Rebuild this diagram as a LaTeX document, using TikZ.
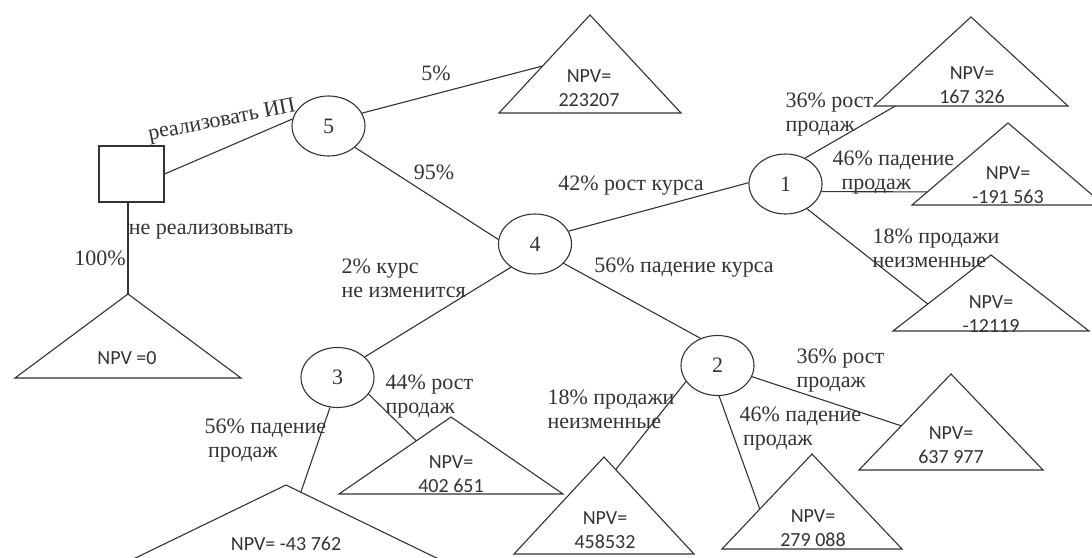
\documentclass[tikz,border=0pt]{standalone}
\usepackage{fontspec}
\setmainfont{Liberation Serif}
\newfontfamily\npvfont{Carlito}
\usetikzlibrary{shapes.geometric,calc}

\tikzset{
  decision/.style={draw,rectangle,minimum width=32.5pt,minimum height=28pt},
  chance/.style={draw,ellipse,minimum width=36.5pt,minimum height=30pt,inner sep=0pt,font=\fontsize{11}{12}\selectfont},
  leaf/.style={line join=miter},
  npv/.style={align=center,inner sep=0pt,font=\npvfont\fontsize{10}{12}\selectfont},
  lbl/.style={inner sep=0pt,align=left,font=\fontsize{11}{12}\selectfont},
}

\begin{document}
\begin{tikzpicture}[x=0.5pt,y=-0.5pt,line width=0.55pt,color=black!80]
\clip (0,0) rectangle (1092,557);

            % decision and chance nodes
            \node[decision] (d) at (131.5,174) {};
            \node[chance] (c5) at (328.5,126) {5};
            \node[chance] (c4) at (535,244) {4};
            \node[chance] (c1) at (785.5,184) {1};
            \node[chance] (c3) at (337.5,377.5) {3};
            \node[chance] (c2) at (717.5,365.5) {2};

            % outcome triangles: apex x/apex y/half width/height
            \foreach \nm/\ax/\ay/\hw/\ht in {
            t0/128/294/113/84,
            t5/590/15/91/98,
            t1a/971/17/97/89,
            t1b/1008/123/96/82,
            t1c/991/255/98/76,
            t2a/951/374/92/96,
            t2b/812/454/90/95,
            t2c/604/457/90/97,
            t3a/451/417/112/77,
            t3b/286/485/165/80} {
            \draw[leaf] (\ax,\ay) coordinate (\nm-top) -- ++(-\hw,\ht) coordinate (\nm-l) -- ++(2*\hw,0) coordinate (\nm-r) -- cycle;
            }

            % NPV values
            \node[npv] (v0) at (127,358) {NPV =0};
            \node[npv] (v5) at (589,88.5) {NPV=\\223207};
            \node[npv] (v1a) at (972,85) {NPV=\\167 326};
            \node[npv] (v1b) at (1008,185) {NPV=\\-191 563};
            \node[npv] (v1c) at (991,314) {NPV=\\-12119};
            \node[npv] (v2a) at (951,445.5) {NPV=\\637 977};
            \node[npv] (v2b) at (813,528) {NPV=\\279 088};
            \node[npv] (v2c) at (605,530) {NPV=\\458532};
            \node[npv] (v3a) at (451,474.5) {NPV=\\402 651};
            \node[npv] (v3b) at (286,544) {NPV= -43 762};

            % branches
            \draw (d.east) -- (c5.169);
            \draw (t0-top |- d.south) -- (t0-top);
            \draw (c5.21) -- ($(t5-l)!0.48!(t5-top)$);
            \draw (c5.-39) -- (c4.173);
            \draw (c4.21) -- (c1.178);
            \draw (c4.-34) -- (c2.122);
            \draw (c4.-136) -- (c3.37);
            \draw (c1.53) -- ($(t1a-l)!0.11!(t1a-r)$);
            \draw (c1.-12) -- ($(t1b-l)!0.16!(t1b-top)$);
            \draw (c1.-49) -- ($(t1c-l)!0.355!(t1c-top)$);
            \draw (c3.-28) -- ($(t3a-l)!0.69!(t3a-top)$);
            \draw (c3.-104) -- ($(t3b-top)!0.09!(t3b-r)$);
            \draw (c2.-153) -- ($(t2c-top)!0.13!(t2c-r)$);
            \draw (c2.-87) -- ($(t2b-l)!0.42!(t2b-top)$);
            \draw (c2.-18) -- ($(t2a-l)!0.46!(t2a-top)$);

            % branch labels
            \node[lbl,rotate=11] (l-ip) at (222,121) {реализовать ИП};
            \node[lbl] (l-no) at (211,232) {не реализовывать};
            \node[lbl] (l-100) at (100,258) {100\%};
            \node[lbl] (l-5) at (436,73) {5\%};
            \node[lbl] (l-95) at (434,172) {95\%};
            \node[lbl] (l-up) at (631,186) {42\% рост курса};
            \node[lbl] (l-down) at (684,268) {56\% падение курса};
            \node[lbl,anchor=west] (l-same) at (341,278.5) {2\% курс\\не изменится};
            \node[lbl,anchor=west] (l-1a) at (785,115) {36\% рост\\продаж};
            \node[lbl,anchor=west] (l-1b) at (832,173) {46\% падение\\\ \,продаж};
            \node[lbl,anchor=west] (l-1c) at (872,248) {18\% продажи\\неизменные};
            \node[lbl,anchor=west] (l-2a) at (796,370.5) {36\% рост\\продаж};
            \node[lbl,anchor=west] (l-2b) at (739,428.5) {46\% падение\\\,продаж};
            \node[lbl,anchor=west] (l-2c) at (547,409.5) {18\% продажи\\неизменные};
            \node[lbl,anchor=west] (l-3a) at (385,397) {44\% рост\\продаж};
            \node[lbl,anchor=west] (l-3b) at (204,441) {56\% падение\\\,продаж};

\end{tikzpicture}
\end{document}
